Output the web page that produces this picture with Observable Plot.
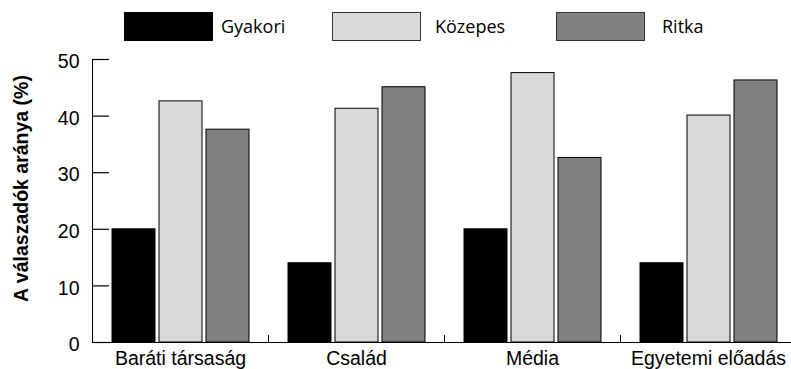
<!DOCTYPE html>
<html>
<head>
<meta charset="utf-8">
<script src="https://cdn.jsdelivr.net/npm/d3@7"></script>
<script src="https://cdn.jsdelivr.net/npm/@observablehq/plot@0.6"></script>
<style>
  html, body { margin: 0; padding: 0; background: #fff; overflow: hidden; }
  #legend { position: relative; width: 791px; height: 50px; font-family: "Open Sans", sans-serif; font-size: 18px; color: #000; }
  .sw { position: absolute; top: 12px; width: 87px; height: 27px; border: 1px solid #333; }
  .lb { position: absolute; top: 14px; line-height: normal; white-space: nowrap; }
</style>
</head>
<body>
<div id="legend"></div>
<div id="chart"></div>
<script>
// ---- data ----
const categories = ["Baráti társaság", "Család", "Média", "Egyetemi előadás"];
const series = ["Gyakori", "Közepes", "Ritka"];
const gyakori = [20, 14, 20, 14];
const kozepes = [42.6, 41.3, 47.6, 40.1];
const ritka = [37.6, 45.1, 32.6, 46.3];
const colors = ["#000000", "#d9d9d9", "#808080"];
const yTicks = [0, 10, 20, 30, 40, 50];
const yTitle = "A válaszadók aránya (%)";

const values = [gyakori, kozepes, ritka];
const data = categories.flatMap((c, i) =>
  series.map((s, j) => ({category: c, series: s, value: values[j][i]}))
);

// ---- legend (above the chart) ----
const swatchLeft = [124, 332, 556];
const labelLeft = [221, 435, 662];
const legend = d3.select("#legend");
series.forEach((s, j) => {
  legend.append("div").attr("class", "sw")
    .style("left", swatchLeft[j] + "px")
    .style("background", colors[j])
    .style("border-color", j === 0 ? "#000" : "#333");
  legend.append("span").attr("class", "lb")
    .style("left", labelLeft[j] + "px")
    .text(s);
});

// ---- chart ----
const chart = Plot.plot({
  width: 791,
  height: 319,
  marginTop: 9,
  marginBottom: 27,
  marginLeft: 92,
  marginRight: 0,
  style: {fontFamily: "'Liberation Sans', Arial, sans-serif", background: "#fff", overflow: "hidden", color: "#000"},
  fx: {domain: categories, range: [92, 796], padding: 0, label: null},
  x: {domain: series, paddingInner: 0.09, paddingOuter: 0.41, axis: null},
  y: {domain: [0, 50], label: null},
  color: {domain: series, range: colors},
  marks: [
    Plot.tickY(yTicks, {y: (d) => d, facetAnchor: "left", insetRight: 159, stroke: "#000", strokeWidth: 1.2}),
    Plot.barY(data, {fx: "category", x: "series", y: "value", fill: "series", stroke: "#000", strokeWidth: 1}),
    Plot.ruleY([0], {stroke: "#000"}),
    Plot.frame({anchor: "left", facetAnchor: "left", stroke: "#000"}),
    Plot.frame({anchor: "left", insetTop: 276, stroke: "#000"}),
    Plot.axisY(yTicks, {tickSize: 0, tickPadding: 13, fontSize: 19.5, dy: 2.5, label: null, fill: "#000"}),
    Plot.axisFx({anchor: "bottom", tickSize: 0, tickPadding: 9, fontSize: 19.5, label: null, fill: "#000"}),
    Plot.text([yTitle], {frameAnchor: "left", facetAnchor: "left", textAnchor: "middle", lineAnchor: "middle", rotate: -90, dx: -71, dy: -12.5, fontSize: 19.5, fontWeight: "bold", fill: "#000"})
  ]
});
document.getElementById("chart").appendChild(chart);
</script>
</body>
</html>
